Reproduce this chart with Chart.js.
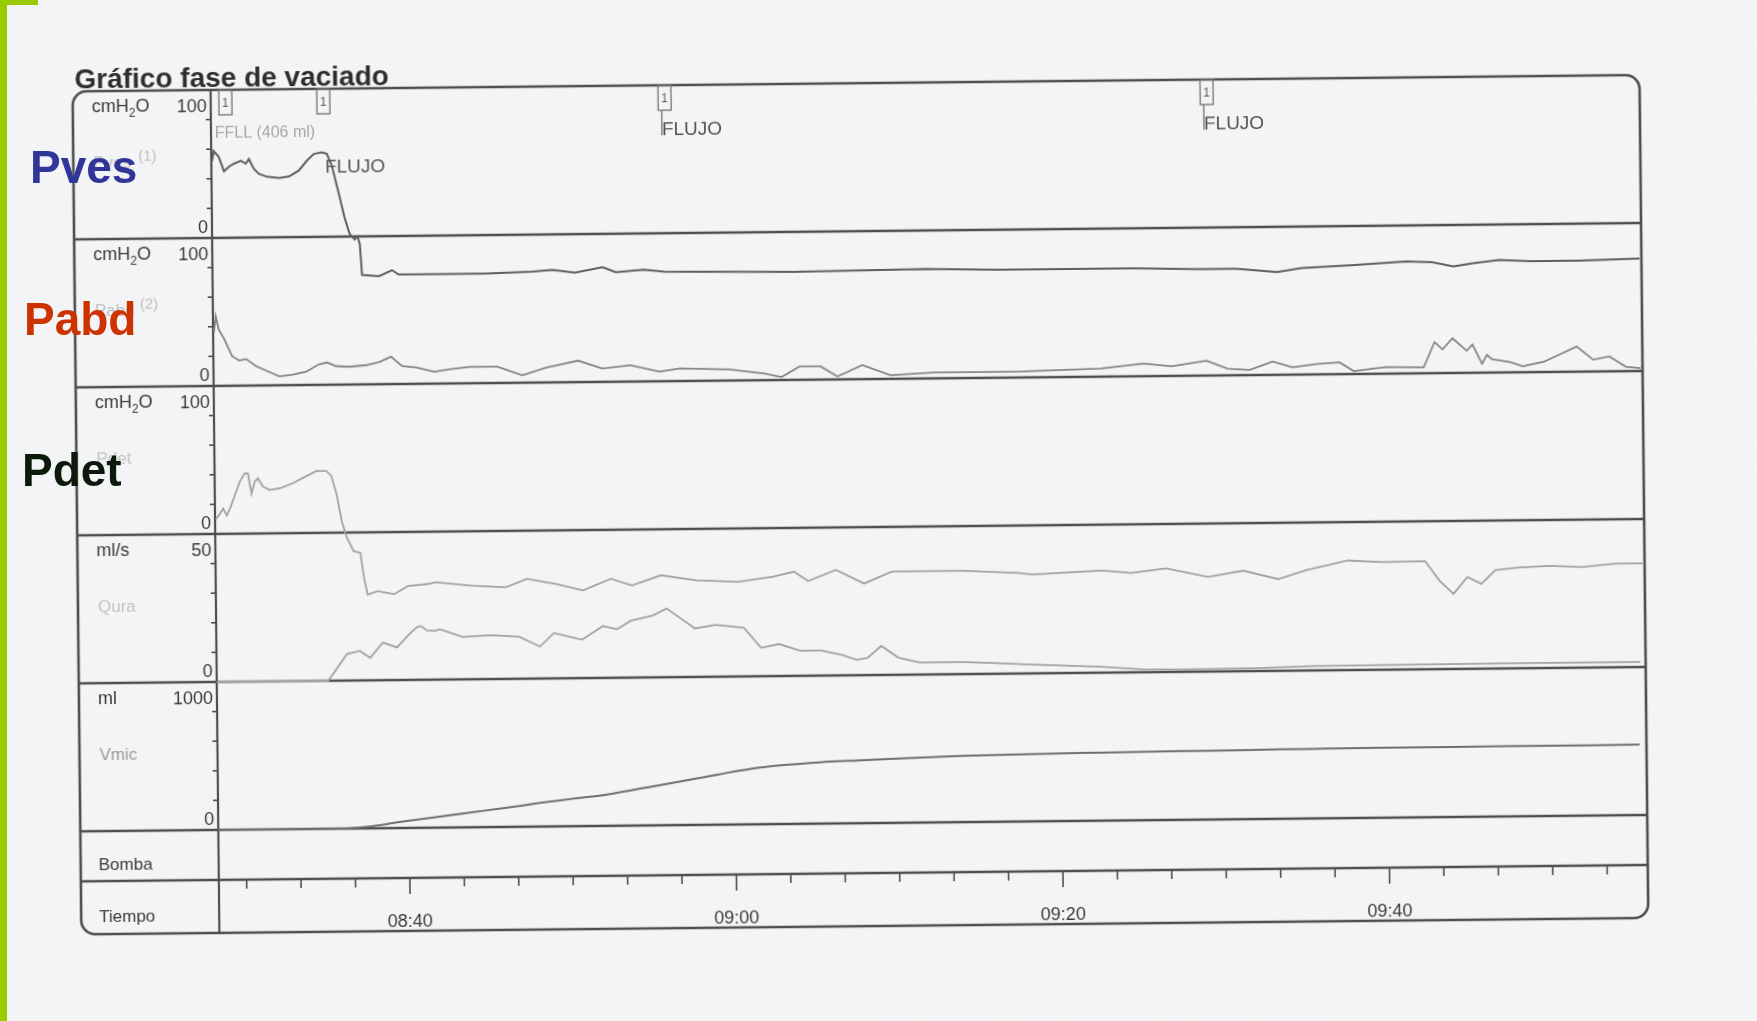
<!DOCTYPE html>
<html><head><meta charset="utf-8">
<script src="https://cdn.jsdelivr.net/npm/chart.js@4.4.1/dist/chart.umd.min.js"></script>
<style>
html,body{margin:0;padding:0;background:#f3f4f6;overflow:hidden;width:1757px;height:1021px;}
#wrap{position:absolute;left:0;top:0;width:1757px;height:1021px;transform:rotate(-0.6deg);transform-origin:878.5px 510.5px;}
canvas{display:block;}
.green{position:absolute;left:0;top:0;width:7px;height:1021px;background:#99cc00;}
.greenTop{position:absolute;left:0;top:0;width:38px;height:5px;background:#99cc00;}
.tag{position:absolute;font-family:"Liberation Sans",Arial,sans-serif;font-weight:bold;font-size:46px;line-height:1;white-space:nowrap;}
</style></head>
<body>
<div id="wrap"><canvas id="c" width="1757" height="1021"></canvas></div>
<div class="green"></div>
<div class="greenTop"></div>
<div class="tag" style="left:30px;top:144px;color:#30359a">Pves</div>
<div class="tag" style="left:24px;top:296px;color:#cc3300">Pabd</div>
<div class="tag" style="left:22px;top:447px;color:#0b1a0b">Pdet</div>
<script>
// ---------- time axis (minutes after 08:00) ----------
const timeMin = 28.3, timeMax = 115.7;
const timeTickValues = [40, 60, 80, 100];
const timeTickLabels = ['08:40', '09:00', '09:20', '09:40'];

// ---------- Pves (cmH2O) ----------
const pvesT = [28.35,28.45,28.76,29.07,29.37,29.68,30.11,30.41,30.6,30.9,31.21,31.7,32.44,33.05,33.66,34.15,34.58,35.07,35.38,35.68,36.11,36.42,36.72,37.03,37.21,37.34,37.46,38.5,39.3,39.7,42,45,47.9,49.1,50.5,52.2,53,54.7,56,60,63.9,68,72,76.5,80,84.6,88.7,91,93.5,95,98,101.4,103,104.3,105.5,107.1,109,112,115.7];
const pvesV = [52,58.7,54.7,45,48,50,52,50,53,46.5,43,41,40,41,45,51.5,56,57,56,48,28,13,2,-2,0,-5,-26,-27,-23,-26,-26,-26,-25,-24,-26,-22.5,-26,-24.5,-26,-26.5,-27,-26.5,-26,-27,-27,-27,-28,-28,-30.5,-28,-26.5,-24.3,-25,-28,-26,-24,-25,-25,-24];

// ---------- Pabd (cmH2O) ----------
const pabdT = [28.35,28.47,28.65,28.96,29.45,29.88,30.3,30.92,31.53,32.33,33.12,33.98,34.78,35.27,35.82,36.62,37.66,38.46,39.18,39.86,40.72,41.82,42.74,43.97,45.68,47.21,48.68,50.64,52.11,53.83,55.61,56.89,59.9,62.04,63.08,64.19,65.47,66.51,68.04,69.76,72.33,77.48,82.63,85.26,86.98,89.12,90.41,91.76,93.17,94.39,95.86,97.27,98.13,99.3,100.15,102.42,103.1,103.59,104.2,105.06,105.42,106.0,106.3,106.6,107.7,108.5,108.9,109.8,110.8,111.8,112.8,113.8,114.8,115.7];
const pabdV = [36,47,38,32,20,17,18,13,10,6,7,9,14,15,12.5,12,13,15,18.5,12,11,8,9.5,11,11,5,10,14.5,9,11,6.5,8.5,7.5,4.5,2,9,9,2,9.5,2.5,4,4,5.5,8.5,6.5,10,4.5,3.5,9,5,7,8,2,3.5,4.5,4,21,16,23.5,15,19,6,12,9,7,4,5,7,12,17,8,10,3,2];

// ---------- Pdet (cmH2O) ----------
const pdetT = [28.35,28.6,28.81,29.02,29.22,29.53,29.83,30.14,30.34,30.55,30.75,30.95,31.26,31.67,32.28,33.1,33.92,34.53,35.14,35.45,35.76,36.06,36.37,36.77,37.18,37.39,37.6,38.21,39.21,40.06,41.29,41.78,43.92,46.07,47.36,49.07,50.79,52.5,53.79,55.57,57.71,60.29,62.43,63.72,64.58,66.29,68.01,69.72,74.01,77.44,78.3,82.59,84.37,86.51,89.08,91.23,93.37,95.09,97.66,99.81,102.38,103.24,104.1,104.96,105.81,106.67,108,110,112,114,115.7];
const pdetV = [10,13.6,17,12.5,17,26,35,40.7,40.7,27,35,37.3,31.6,29.3,30.4,33.8,38.4,41.8,41.8,38.4,25.9,7.8,-3.6,-12.6,-13.8,-30.8,-42.1,-39.8,-42,-36.6,-35.3,-34.2,-36.7,-38.1,-32.5,-36.1,-40.8,-33.1,-37.7,-31.1,-34.7,-36.1,-32.9,-29.6,-36,-28.7,-38.1,-30.2,-30.2,-32,-33.2,-31,-32.8,-30,-36.1,-32.1,-38,-32.2,-26,-27.3,-26.9,-40.1,-49.2,-38,-42.6,-33.6,-32,-31,-32,-30,-30];

// ---------- Qura (ml/s) ----------
const quraT = [28.3,35.13,36.3,37.09,37.71,38.5,39.36,40.16,40.59,40.83,41.2,41.69,42.0,43.4,45.12,46.84,48.12,48.98,50.7,51.98,52.84,53.7,55.05,55.9,56.76,57.62,58.91,60.62,61.66,62.77,64.05,65.34,66.63,67.49,68.16,69.02,70.06,71.35,73.92,76.07,78.21,82.5,85,87.28,92,95.43,106.95,115.5];
const quraV = [0,0,9,10,7.6,12.7,11,15.7,17.8,18.2,16.7,16.5,17,14.3,14.8,14.2,10.8,15.3,13,17.5,16.4,19.2,20.9,23.2,19.8,16.4,17.5,16.4,9.6,10.8,8.5,8.5,6.9,5.2,5.8,9.8,5.8,4.1,4.1,3.6,3.0,2.0,1.0,0.8,1.0,1.5,1.7,1.7];

// ---------- Vmic (ml) ----------
const vmicT = [28.3,35.84,37.5,39.39,41.5,43.74,46,48.03,50,52.32,54.5,56.67,59,60.96,63,65.2,67.5,69.54,73.83,78,82.4,87,91.05,95,99.6,106.85,115.4];
const vmicV = [0,0,12,40,70,100,130,160,185,215,255,295,340,375,398,414,424,432,447,455,460,464,467,470,473,474,476];

// ---------- event marks ----------
const eventTimes = [29.2, 35.2, 56.1, 89.3];
const eventLabels = ['FFLL (406 ml)', 'FLUJO', 'FLUJO', 'FLUJO'];

// ---------- y tick marks per channel ----------
const pressureTicks = [20, 40, 60, 80];
const flowTicks = [10, 20, 30, 40];
const volumeTicks = [200, 400, 600, 800];

const FONT = '"Liberation Sans", Arial, sans-serif';
const pts = (T, V) => T.map((t, i) => ({x: t, y: V[i]}));

const channels = [
  {id: 'yPves', unit: 'cmH2O', top: '100', bot: '0', name: 'Pves', extra: '(1)', ticks: pressureTicks, nameColor: '#bdbdbd'},
  {id: 'yPabd', unit: 'cmH2O', top: '100', bot: '0', name: 'Pabd', extra: '(2)', ticks: pressureTicks, nameColor: '#bdbdbd'},
  {id: 'yPdet', unit: 'cmH2O', top: '100', bot: '0', name: 'Pdet', extra: '', ticks: pressureTicks, nameColor: '#c4c4c4'},
  {id: 'yQura', unit: 'ml/s', top: '50', bot: '0', name: 'Qura', extra: '', ticks: flowTicks, nameColor: '#c4c4c4'},
  {id: 'yVmic', unit: 'ml', top: '1000', bot: '0', name: 'Vmic', extra: '', ticks: volumeTicks, nameColor: '#9a9a9a'}
];

function rr(ctx, x, y, w, h, r) {
  ctx.beginPath();
  ctx.moveTo(x + r, y); ctx.lineTo(x + w - r, y); ctx.arcTo(x + w, y, x + w, y + r, r);
  ctx.lineTo(x + w, y + h - r); ctx.arcTo(x + w, y + h, x + w - r, y + h, r);
  ctx.lineTo(x + r, y + h); ctx.arcTo(x, y + h, x, y + h - r, r);
  ctx.lineTo(x, y + r); ctx.arcTo(x, y, x + r, y, r); ctx.closePath();
}

function drawUnit(ctx, x, y, unit) {
  if (unit === 'cmH2O') {
    ctx.font = '18px ' + FONT; ctx.fillText('cmH', x, y);
    const w = ctx.measureText('cmH').width;
    ctx.font = '12px ' + FONT; ctx.fillText('2', x + w, y + 5);
    const w2 = ctx.measureText('2').width;
    ctx.font = '18px ' + FONT; ctx.fillText('O', x + w + w2, y);
  } else {
    ctx.font = '18px ' + FONT; ctx.fillText(unit, x, y);
  }
}

const decor = {
  id: 'decor',
  beforeDraw(chart) {
    const {ctx, width, height} = chart;
    ctx.save(); ctx.fillStyle = '#f3f4f6'; ctx.fillRect(0, 0, width, height); ctx.restore();
  },
  beforeDatasetsDraw(chart) {
    const {ctx, chartArea: a, scales: s} = chart;
    const L = 77, R = a.right + 2, T = a.top, B = s.yBomba.bottom + 53;
    ctx.save();
    ctx.strokeStyle = '#4e4e4e'; ctx.lineWidth = 2.6;
    ['yPves', 'yPabd', 'yPdet', 'yQura', 'yVmic', 'yBomba'].forEach(id => {
      const y = s[id].bottom;
      ctx.beginPath(); ctx.moveTo(L, y); ctx.lineTo(R, y); ctx.stroke();
    });
    rr(ctx, L, T, R - L, B - T, 14); ctx.stroke();
    ctx.lineWidth = 2.2;
    ctx.beginPath(); ctx.moveTo(a.left, T); ctx.lineTo(a.left, B); ctx.stroke();
    // y tick marks
    ctx.lineWidth = 1.6;
    channels.forEach(c => {
      const sc = s[c.id];
      c.ticks.forEach(v => {
        const y = sc.getPixelForValue(v);
        ctx.beginPath(); ctx.moveTo(a.left - 5, y); ctx.lineTo(a.left, y); ctx.stroke();
      });
    });
    // time ticks
    const yb = s.yBomba.bottom;
    const x = s.x;
    ctx.lineWidth = 1.6;
    for (let t = timeTickValues[0] - 20; t <= timeMax + 0.01; t += 20 / 6) {
      if (t < timeMin + 0.2) continue;
      const px = x.getPixelForValue(t);
      const major = timeTickValues.some(v => Math.abs(v - t) < 0.01);
      ctx.beginPath(); ctx.moveTo(px, yb); ctx.lineTo(px, yb + (major ? 16 : 9)); ctx.stroke();
    }
    ctx.restore();
  },
  afterDraw(chart) {
    const {ctx, chartArea: a, scales: s} = chart;
    ctx.save();
    // title
    ctx.fillStyle = '#2e2e2e'; ctx.font = 'bold 28px ' + FONT; ctx.textBaseline = 'alphabetic';
    ctx.fillText('Gráfico fase de vaciado', 79, 80);
    // channel labels
    channels.forEach(c => {
      const sc = s[c.id];
      ctx.fillStyle = '#3a3a3a'; ctx.textAlign = 'left';
      drawUnit(ctx, 96, sc.top + 21, c.unit);
      ctx.textAlign = 'right'; ctx.font = '18px ' + FONT;
      ctx.fillText(c.top, a.left - 4, sc.top + 22);
      ctx.fillText(c.bot, a.left - 4, sc.bottom - 5);
      ctx.textAlign = 'left'; ctx.fillStyle = c.nameColor; ctx.font = '17px ' + FONT;
      ctx.fillText(c.name, 97, sc.top + 77);
      if (c.extra) { ctx.font = '15px ' + FONT; ctx.fillText(c.extra, 142, sc.top + 70); }
    });
    ctx.fillStyle = '#3a3a3a'; ctx.font = '17px ' + FONT; ctx.textAlign = 'left';
    ctx.fillText('Bomba', 95, s.yBomba.top + 39);
    ctx.fillText('Tiempo', 95, s.yBomba.bottom + 41);
    // time labels
    ctx.textAlign = 'center'; ctx.font = '18px ' + FONT;
    timeTickValues.forEach((t, i) => {
      ctx.fillText(timeTickLabels[i], s.x.getPixelForValue(t), s.yBomba.bottom + 49);
    });
    // events
    eventTimes.forEach((t, i) => {
      const px = s.x.getPixelForValue(t);
      const top = a.top;
      ctx.strokeStyle = '#707070'; ctx.lineWidth = 1.3;
      ctx.strokeRect(px - 6.5, top, 13, 25);
      ctx.fillStyle = '#555'; ctx.font = '12px ' + FONT; ctx.textAlign = 'center';
      ctx.fillText('1', px, top + 17);
      ctx.textAlign = 'left';
      const lab = eventLabels[i];
      if (lab.indexOf('FFLL') === 0) {
        ctx.fillStyle = '#a8a8a8'; ctx.font = '16px ' + FONT;
        ctx.fillText(lab, px - 11, top + 48);
      } else if (i > 0 && eventLabels[i - 1].indexOf('FFLL') === 0) {
        ctx.fillStyle = '#555'; ctx.font = '19px ' + FONT;
        ctx.fillText(lab, px + 1, top + 84);
      } else {
        ctx.beginPath(); ctx.moveTo(px - 3, top + 25); ctx.lineTo(px - 3, top + 50); ctx.stroke();
        ctx.fillStyle = '#555'; ctx.font = '19px ' + FONT;
        ctx.fillText(lab, px - 3, top + 50);
      }
    });
    ctx.restore();
  }
};

const lineDs = (label, data, yAxisID, color, width, extra) => Object.assign({
  label, data, yAxisID, xAxisID: 'x', borderColor: color, borderWidth: width,
  pointRadius: 0, tension: 0, fill: false, clip: false
}, extra || {});

new Chart(document.getElementById('c'), {
  type: 'line',
  data: {
    datasets: [
      lineDs('Pves', pts(pvesT, pvesV), 'yPves', '#5e5e5e', 2),
      lineDs('Pabd', pts(pabdT, pabdV), 'yPabd', '#858585', 1.8),
      lineDs('Pdet', pts(pdetT, pdetV), 'yPdet', '#a2a2a2', 1.8),
      lineDs('Qura', pts(quraT, quraV), 'yQura', '#a2a2a2', 1.8),
      lineDs('Vmic', pts(vmicT, vmicV), 'yVmic', '#6e6e6e', 2, {tension: 0.35, cubicInterpolationMode: 'monotone'})
    ]
  },
  options: {
    responsive: false, animation: false, devicePixelRatio: 1,
    layout: {padding: {left: 215, right: 115, top: 83, bottom: 148}},
    plugins: {legend: {display: false}, tooltip: {enabled: false}},
    events: [],
    scales: {
      x: {type: 'linear', min: timeMin, max: timeMax, display: false},
      yBomba: {type: 'linear', position: 'left', stack: 'p', stackWeight: 50, min: 0, max: 1, display: false},
      yVmic: {type: 'linear', position: 'left', stack: 'p', stackWeight: 148, min: 0, max: 1000, display: false},
      yQura: {type: 'linear', position: 'left', stack: 'p', stackWeight: 148, min: 0, max: 50, display: false},
      yPdet: {type: 'linear', position: 'left', stack: 'p', stackWeight: 148, min: 0, max: 100, display: false},
      yPabd: {type: 'linear', position: 'left', stack: 'p', stackWeight: 148, min: 0, max: 100, display: false},
      yPves: {type: 'linear', position: 'left', stack: 'p', stackWeight: 148, min: 0, max: 100, display: false}
    }
  },
  plugins: [decor]
});
</script>
</body></html>
